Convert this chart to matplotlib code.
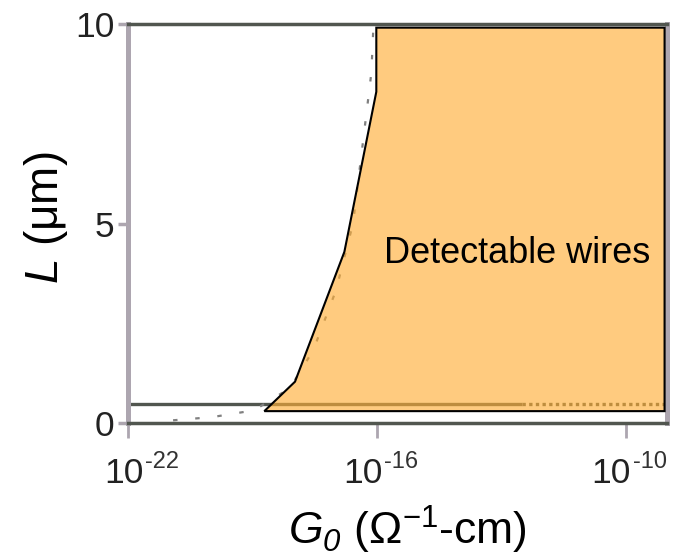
import numpy as np
import matplotlib
matplotlib.use("Agg")
import matplotlib.pyplot as plt
from matplotlib import font_manager

# boundary of the detectable region (G0 in ohm^-1 cm^-1, L in um)
edge_G = [10**-18.72, 10**-17.98, 10**-16.79, 10**-16.02, 10**-16.02]
edge_L = [0.29, 1.03, 4.29, 8.31, 9.92]
right_G = 10**-9.07
top_L = 9.92
bottom_L = 0.29

# dashed model curve
model_G = [10**-20.92, 10**-19.98, 10**-18.97, 10**-18.10, 10**-17.54,
           10**-16.99, 10**-16.58, 10**-16.33, 10**-16.14, 10**-16.09]
model_L = [0.06, 0.14, 0.31, 0.87, 1.82, 3.33, 5.01, 7.15, 8.78, 9.95]

# minimum length line
min_L = 0.46
min_G_solid = [1e-22, 10**-12.5]
min_G_dot = [10**-12.5, right_G]

xticks = [1e-22, 1e-16, 1e-10]
xexps = ['-22', '-16', '-10']
yticks = [0, 5, 10]
ylabels = ['0', '5', '10']

names = {f.name for f in font_manager.fontManager.ttflist}
narrow = 'Liberation Sans Narrow' if 'Liberation Sans Narrow' in names else 'Liberation Sans'
big, small = (29, 20) if narrow == 'Liberation Sans Narrow' else (25.5, 17)

plt.rcParams['font.family'] = ['Liberation Sans', 'DejaVu Sans']
plt.rcParams['mathtext.fontset'] = 'custom'
plt.rcParams['mathtext.rm'] = 'Liberation Sans'
plt.rcParams['mathtext.it'] = 'Liberation Sans:italic'
plt.rcParams['mathtext.sf'] = 'Liberation Sans:italic'

dark = '#51564f'
light = '#ada6b0'

fig = plt.figure(figsize=(6.73, 5.6), dpi=100)
ax = fig.add_axes([0.1906, 0.2452, 0.8012, 0.7111])
ax.set_xscale('log')
ax.set_xlim(1e-22, 1e-9)
ax.set_ylim(0, 10)

ax.plot(min_G_solid, [min_L, min_L], color=dark, lw=2.4, solid_capstyle='butt', zorder=1)
ax.plot(min_G_dot, [min_L, min_L], color=dark, lw=2.4, ls=(0, (1, 1)), zorder=1)
ax.plot(model_G, model_L, color='#808080', lw=1.6, ls=(0, (2, 8)), zorder=1)

poly_G = edge_G + [right_G, right_G]
poly_L = edge_L + [top_L, bottom_L]
ax.fill(poly_G, poly_L, facecolor='#ffae35', alpha=0.63, edgecolor='none', zorder=2)
ax.fill(poly_G, poly_L, facecolor='none', edgecolor='black', lw=1.5, zorder=3)

ax.text(0.769, 0.5304, 'Detectable wires', transform=fig.transFigure,
        fontsize=26, ha='center', va='baseline', zorder=4)

# spines and ticks
for side in ['top', 'bottom']:
    ax.spines[side].set_color(dark)
    ax.spines[side].set_linewidth(2.5)
for side in ['left', 'right']:
    ax.spines[side].set_color(light)
    ax.spines[side].set_linewidth(3.6)

ax.set_xticks(xticks)
ax.set_xticklabels([])
ax.minorticks_off()
ax.set_yticks(yticks)
ax.set_yticklabels([])
ax.tick_params(axis='x', direction='out', length=10.8, width=2.0, color=light)
ax.tick_params(axis='y', direction='out', length=7.2, width=2.5, color=light)

# x tick labels: "10" plus exponent
shifts = [15, 5, 5]
for xt, ex, sh in zip(xticks, xexps, shifts):
    ax.annotate('10', xy=(xt, 0), xycoords=('data', 'axes fraction'),
                xytext=(sh, -60), textcoords='offset pixels',
                ha='right', va='baseline', fontsize=big, family=narrow, color='#222222')
    ax.annotate(ex, xy=(xt, 0), xycoords=('data', 'axes fraction'),
                xytext=(sh + 2, -45), textcoords='offset pixels',
                ha='left', va='baseline', fontsize=small, family=narrow, color='#333333')

for yv, lab in zip(yticks, ylabels):
    ax.annotate(lab, xy=(0, yv), xycoords=('axes fraction', 'data'),
                xytext=(-14, -13), textcoords='offset pixels',
                ha='right', va='baseline', fontsize=big, family=narrow, color='#222222')

fig.text(0.6055, 0.0268, r'$G_{\mathsf{0}}$ ($\Omega^{-1}$-cm)', fontsize=32,
         ha='center', va='baseline')
fig.text(0.068, 0.6116, '$L$ (\u03bcm)', rotation=90, fontsize=33,
         ha='center', va='center')

fig.savefig('out.png', dpi=100)
